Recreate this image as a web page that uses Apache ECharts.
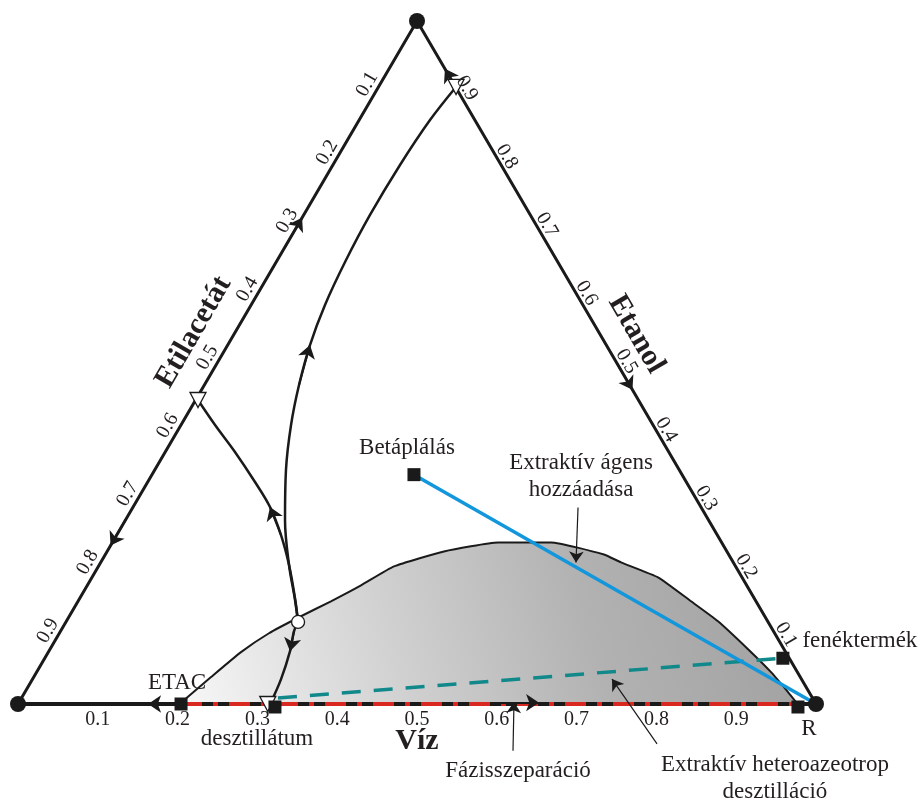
<!DOCTYPE html>
<html><head><meta charset="utf-8">
<script src="https://cdn.jsdelivr.net/npm/echarts@6/dist/echarts.min.js"></script>
<style>html,body{margin:0;padding:0;background:#fff}#c{width:922px;height:803px}</style>
</head><body><div id="c"></div>
<script>
// compositions are [water fraction, ethanol fraction]; ethyl acetate = 1 - water - ethanol
const tickValues = [0.1,0.2,0.3,0.4,0.5,0.6,0.7,0.8,0.9];
const tickLabels = ['0.1','0.2','0.3','0.4','0.5','0.6','0.7','0.8','0.9'];
const axisTitles = ['Víz','Etilacetát','Etanol'];
const vertices = [[0,0],[1,0],[0,1]];
const binodal = [
  [0.2046,0.0044],[0.2222,0.0394],[0.2415,0.0759],[0.2627,0.1036],[0.2886,0.127],
  [0.317,0.1504],[0.343,0.1737],[0.3704,0.2015],[0.4221,0.2234],[0.4833,0.2365],
  [0.5497,0.2365],[0.6248,0.219],[0.652,0.2073],[0.7093,0.1854],[0.7682,0.1504],
  [0.8166,0.1212],[0.8747,0.0803],[0.9203,0.0467],[0.9562,0.0175],[0.9735,0.0029]
];
const boundaryUpper = [
  [0.0972,0.9034],[0.0888,0.855],[0.0841,0.7892],[0.0831,0.716],[0.0863,0.6471],
  [0.0926,0.5842],[0.1031,0.5256],[0.1186,0.4671],[0.1379,0.4085],[0.1645,0.3426],
  [0.1999,0.2694],[0.2379,0.2035],[0.271,0.1523],[0.2909,0.1201]
];
const boundaryLeft = [
  [0.003,0.4451],[0.0427,0.4085],[0.0874,0.369],[0.1345,0.325],[0.1716,0.2884],
  [0.2059,0.2474],[0.2379,0.2035],[0.2695,0.1552],[0.2909,0.1201]
];
const boundaryLower = [
  [0.2909,0.1201],[0.2926,0.1066],[0.3022,0.0774],[0.3114,0.0365],[0.3156,0.0029]
];
const binaryAzeotropes = [[0.0972,0.9034],[0.003,0.4451],[0.313,0]];
const ternaryAzeotrope = [[0.2909,0.1201]];
const streamNames = ['Betáplálás','ETAC','desztillátum','fenéktermék','R'];
const streamPoints = [[0.3283,0.3358],[0.2043,0],[0.322,0],[0.925,0.067],[0.9774,0]];
const feedLine = [[0.3283,0.3358],[1,0]];
const phaseSepLine = [[0.2043,0],[0.97,0]];
const distLine = [[0.3214,0.0088],[0.925,0.067]];
const flowArrows = [
  [[0.10,0.90],[0.07,0.93]],
  [[0,0.67],[0,0.712]],
  [[0,0.27],[0,0.232]],
  [[0.2,0],[0.163,0]],
  [[0.5,0.5],[0.54,0.46]],
  [[0.1186,0.4671],[0.1031,0.5256]],
  [[0.2059,0.2474],[0.1716,0.2884]],
  [[0.2926,0.1066],[0.3022,0.0774]],
  [[0.60,0.002],[0.652,0.002]]
];
const noteTexts = ['Extraktív ágens\nhozzáadása','Fázisszeparáció','Extraktív heteroazeotrop\ndesztilláció'];
const notePoints = [[0.5391,0.3328],[0.6755,-0.0978],[1.0033,-0.1095]];
const noteArrows = [
  [[0.558,0.2876],[0.5956,0.2073]],
  [[0.6546,-0.0686],[0.6201,0.0029]],
  [[0.83,-0.0584],[0.7261,0.0365]]
];

function tern(p){ return [p[0] + p[1]/2, p[1]]; }
// convert a wanted on-screen offset into the rotated label frame
function rotOffset(d, deg){
  const t = deg*Math.PI/180, c = Math.cos(t), s = Math.sin(t);
  return [d[0]*c - d[1]*s, d[0]*s + d[1]*c];
}
const FONT = "'Liberation Serif','Times New Roman',serif";
const TXT = '#231f20';
const INK = '#1a1a1a';
const invisible = {color:'rgba(0,0,0,0)', opacity:1};

function textSeries(points, labels, opts){
  return {
    type:'scatter', z:10, silent:true, clip:false, symbolSize:1, itemStyle:invisible,
    data: points.map((p,i)=>({value:tern(p), label:{formatter:labels[i]}})),
    label:Object.assign({show:true, position:'inside', color:TXT, fontFamily:FONT,
      align:'center', verticalAlign:'middle'}, opts)
  };
}

const chart = echarts.init(document.getElementById('c'), null, {renderer:'canvas'});
const option = {
  animation:false,
  backgroundColor:'#fff',
  grid:{left:18, right:106, top:21, bottom:99},
  xAxis:{type:'value', min:0, max:1, show:false},
  yAxis:{type:'value', min:0, max:1, show:false},
  series:[
    { // binodal with shaded two-phase region
      type:'line', z:1, silent:true, clip:false, symbol:'none', smooth:0.15,
      data:binodal.map(tern),
      lineStyle:{color:INK, width:2},
      areaStyle:{opacity:1, color:new echarts.graphic.LinearGradient(0,1,1,0,[
        {offset:0,color:'#f7f7f7'},{offset:0.35,color:'#d0d0d0'},
        {offset:0.65,color:'#b2b2b2'},{offset:1,color:'#a0a0a0'}])}
    },
    { // triangle sides
      type:'line', z:2, silent:true, clip:false, symbol:'none',
      data:[tern(vertices[0]), tern(vertices[2]), tern(vertices[1])],
      lineStyle:{color:INK, width:3}
    },
    {
      type:'line', z:2, silent:true, clip:false, symbol:'none',
      data:[tern(vertices[0]), tern(vertices[1])],
      lineStyle:{color:INK, width:4}
    },
    { // distillation boundaries
      type:'line', z:3, silent:true, clip:false, symbol:'none', smooth:0.35,
      data:boundaryUpper.map(tern), lineStyle:{color:INK, width:2.5}
    },
    {
      type:'line', z:3, silent:true, clip:false, symbol:'none', smooth:0.35,
      data:boundaryLeft.map(tern), lineStyle:{color:INK, width:2.5}
    },
    {
      type:'line', z:3, silent:true, clip:false, symbol:'none', smooth:0.35,
      data:boundaryLower.map(tern), lineStyle:{color:INK, width:2.5}
    },
    { // phase separation (red dash-dot)
      type:'line', z:4, silent:true, clip:false, symbol:'none',
      data:phaseSepLine.map(tern),
      lineStyle:{color:'#d9281f', width:4, type:[21,11,5,11]}
    },
    { // distillate-bottom (teal dashed)
      type:'line', z:4, silent:true, clip:false, symbol:'none',
      data:distLine.map(tern),
      lineStyle:{color:'#11898b', width:3.5, type:[19,13]}
    },
    { // feed + entrainer (blue)
      type:'line', z:4, silent:true, clip:false, symbol:'none',
      data:feedLine.map(tern),
      lineStyle:{color:'#1296dc', width:3.5}
    },
    { // direction arrows
      type:'lines', coordinateSystem:'cartesian2d', z:6, silent:true, clip:false,
      symbol:['none','arrow'], symbolSize:13,
      lineStyle:{color:INK, width:2, opacity:1},
      data:flowArrows.map(a=>({coords:[tern(a[0]), tern(a[1])]}))
    },
    { // annotation arrows
      type:'lines', coordinateSystem:'cartesian2d', z:6, silent:true, clip:false,
      symbol:['none','arrow'], symbolSize:11,
      lineStyle:{color:INK, width:1.2, opacity:1},
      data:noteArrows.map(a=>({coords:[tern(a[0]), tern(a[1])]}))
    },
    { // pure component vertices
      type:'scatter', z:7, silent:true, clip:false, symbol:'circle', symbolSize:16,
      itemStyle:{color:INK, opacity:1}, data:vertices.map(tern)
    },
    { // binary azeotropes
      type:'scatter', z:7, silent:true, clip:false, symbol:'triangle', symbolRotate:180, symbolSize:[16,15],
      itemStyle:{color:'#fff', borderColor:INK, borderWidth:1.3, opacity:1},
      data:binaryAzeotropes.map(tern)
    },
    { // ternary azeotrope
      type:'scatter', z:7, silent:true, clip:false, symbol:'circle', symbolSize:13,
      itemStyle:{color:'#fff', borderColor:INK, borderWidth:1.3, opacity:1},
      data:ternaryAzeotrope.map(tern)
    },
    { // streams
      type:'scatter', z:8, silent:true, clip:false, symbol:'rect', symbolSize:13,
      itemStyle:{color:INK, opacity:1},
      data:streamPoints.map((p,i)=>{
        const offs = [[-7,-27],[-4,-21],[-18,32],[77,-17],[11,22]];
        const so = (i===2||i===4) ? [0,3] : [0,0];
        return {value:tern(p), symbolOffset:so,
          label:{show:true, formatter:streamNames[i], offset:offs[i]}};
      }),
      label:{position:'inside', color:TXT, fontFamily:FONT, fontSize:23, align:'center', verticalAlign:'middle'}
    },
    // tick labels: bottom (water), left (ethyl acetate), right (ethanol)
    textSeries(tickValues.map(v=>[v,0]), tickLabels, {fontSize:20, offset:[0,16]}),
    textSeries(tickValues.map(v=>[0,1-v]), tickLabels, {fontSize:20, rotate:60, offset:rotOffset([-10,-5],60)}),
    textSeries(tickValues.map(v=>[1-v,v]), tickLabels, {fontSize:20, rotate:-60, offset:rotOffset([10,-1],-60)}),
    // axis titles
    textSeries([[0.5,0]], [axisTitles[0]], {fontSize:30, fontWeight:'bold', offset:[0,37]}),
    textSeries([[0,0.518]], [axisTitles[1]], {fontSize:30, fontWeight:'bold', rotate:60, offset:rotOffset([-31,-18],60)}),
    textSeries([[0.482,0.518]], [axisTitles[2]], {fontSize:30, fontWeight:'bold', rotate:-60, offset:rotOffset([27,-16],-60)}),
    // annotations
    textSeries(notePoints, noteTexts, {fontSize:23, lineHeight:27})
  ]
};
chart.setOption(option);
</script>
</body></html>
